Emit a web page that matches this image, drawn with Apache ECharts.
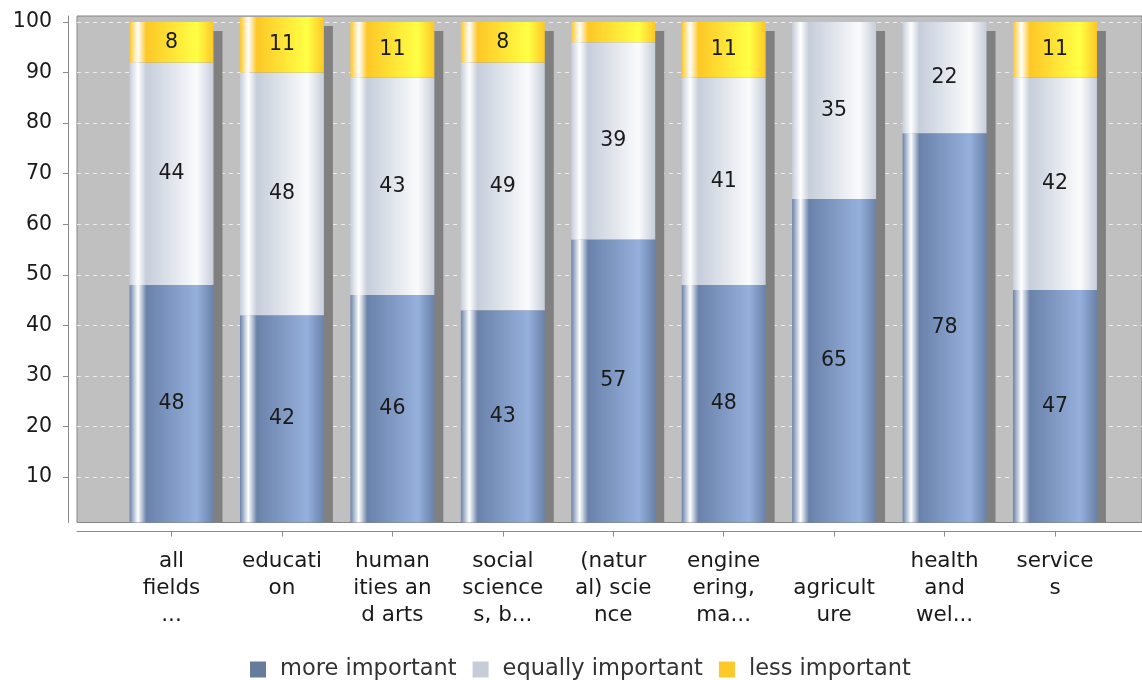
<!DOCTYPE html>
<html>
<head>
<meta charset="utf-8">
<script src="https://cdn.jsdelivr.net/npm/echarts@6/dist/echarts.min.js"></script>
<style>html,body{margin:0;padding:0;background:#fff;}#c{width:1142px;height:680px;}</style>
</head>
<body>
<div id="c"></div>
<script>
const categories = ["all\nfields\n...", "educati\non", "human\nities an\nd arts", "social\nscience\ns, b...", "(natur\nal) scie\nnce", "engine\nering,\nma...", "\nagricult\nure", "health\nand\nwel...", "service\ns"];
const seriesNames = ["more important", "equally important", "less important"];
const moreImportant = [48, 42, 46, 43, 57, 48, 65, 78, 47];
const equallyImportant = [44, 48, 43, 49, 39, 41, 35, 22, 42];
const lessImportant = [8, 11, 11, 8, 4, 11, 0, 0, 11];
const yTicks = [10, 20, 30, 40, 50, 60, 70, 80, 90, 100];

const FONT = 'DejaVu Sans';
const Y_MIN = 1, Y_MAX = 101.2;
const BAR_FRAC = 0.76;

function grad(base, bright) {
  return new echarts.graphic.LinearGradient(0, 0, 1, 0, [
    {offset: 0, color: base},
    {offset: 0.1, color: '#ffffff'},
    {offset: 0.2, color: base},
    {offset: 0.8, color: bright},
    {offset: 1, color: base}
  ]);
}
const styles = [
  {base: '#6a82aa', bright: '#95b0dc', legend: '#667c9f'},
  {base: '#c6cedb', bright: '#fafbfc', legend: '#c5cdd9'},
  {base: '#fdc726', bright: '#ffff45', legend: '#fec828'}
];
const values = [moreImportant, equallyImportant, lessImportant];
const totals = categories.map((_, i) => moreImportant[i] + equallyImportant[i] + lessImportant[i]);

const chart = echarts.init(document.getElementById('c'), null, {renderer: 'canvas'});

const barSeries = values.map((arr, k) => ({
  name: seriesNames[k],
  type: 'bar',
  stack: 'total',
  xAxisIndex: 1,
  yAxisIndex: 1,
  barWidth: (BAR_FRAC * 100) + '%',
  data: arr,
  z: 3,
  itemStyle: {color: grad(styles[k].base, styles[k].bright)},
  label: {
    show: true,
    position: 'inside',
    fontFamily: FONT,
    fontSize: 20.5,
    color: '#1a1a1a',
    formatter: p => (p.value >= 6 ? String(p.value) : '')
  }
}));

const option = {
  animation: false,
  backgroundColor: '#ffffff',
  textStyle: {fontFamily: FONT},
  grid: [
    {left: 77, right: -2, top: 16, bottom: 157.5, show: true, backgroundColor: '#c0c0c0', borderColor: '#858585', borderWidth: 1, containLabel: false},
    {left: 116.3, right: 31.8, top: 16, bottom: 157.5, containLabel: false}
  ],
  xAxis: [
    {gridIndex: 0, type: 'category', data: categories, offset: 9,
     axisLine: {show: true, lineStyle: {color: '#8a8a8a', width: 1}},
     axisTick: {show: false}, axisLabel: {show: false}, splitLine: {show: false}},
    {gridIndex: 1, type: 'category', data: categories, offset: 9,
     axisLine: {show: false},
     axisTick: {show: true, alignWithLabel: true, length: 5, lineStyle: {color: '#8a8a8a'}},
     axisLabel: {show: true, interval: 0, margin: 16, fontFamily: FONT, fontSize: 21.5, lineHeight: 27, color: '#1a1a1a', align: 'center'},
     splitLine: {show: false}}
  ],
  yAxis: [
    {gridIndex: 0, type: 'value', min: Y_MIN, max: Y_MAX, offset: 9,
     axisLine: {show: true, lineStyle: {color: '#8a8a8a', width: 1}},
     axisTick: {show: true, length: 5, lineStyle: {color: '#8a8a8a'}, customValues: yTicks},
     axisLabel: {show: true, margin: 16, fontFamily: FONT, fontSize: 20.5, color: '#1a1a1a', customValues: yTicks},
     splitLine: {show: true, lineStyle: {color: '#ececec', width: 1, type: [4, 4]}}},
    {gridIndex: 1, type: 'value', min: Y_MIN, max: Y_MAX, show: false, splitLine: {show: false}}
  ],
  legend: {
    left: 245, top: 653,
    itemWidth: 16, itemHeight: 16, itemGap: 16,
    icon: 'rect',
    textStyle: {fontFamily: FONT, fontSize: 22.5, color: '#333', padding: [0, 0, 0, 9]},
    data: seriesNames.map((n, k) => ({name: n, itemStyle: {color: styles[k].legend}}))
  },
  series: [
    {
      type: 'custom',
      xAxisIndex: 1,
      yAxisIndex: 1,
      z: 2,
      silent: true,
      data: totals.map((t, i) => [i, t]),
      renderItem: function (params, api) {
        const i = api.value(0), t = api.value(1);
        const top = api.coord([i, t]);
        const bot = api.coord([i, Y_MIN]);
        const w = api.size([1, 0])[0] * BAR_FRAC;
        const off = 9;
        return {
          type: 'rect',
          shape: {x: top[0] - w / 2 + off, y: top[1] + off, width: w, height: bot[1] - top[1] - off},
          style: {fill: '#808080'}
        };
      }
    }
  ].concat(barSeries)
};
chart.setOption(option);
</script>
</body>
</html>
